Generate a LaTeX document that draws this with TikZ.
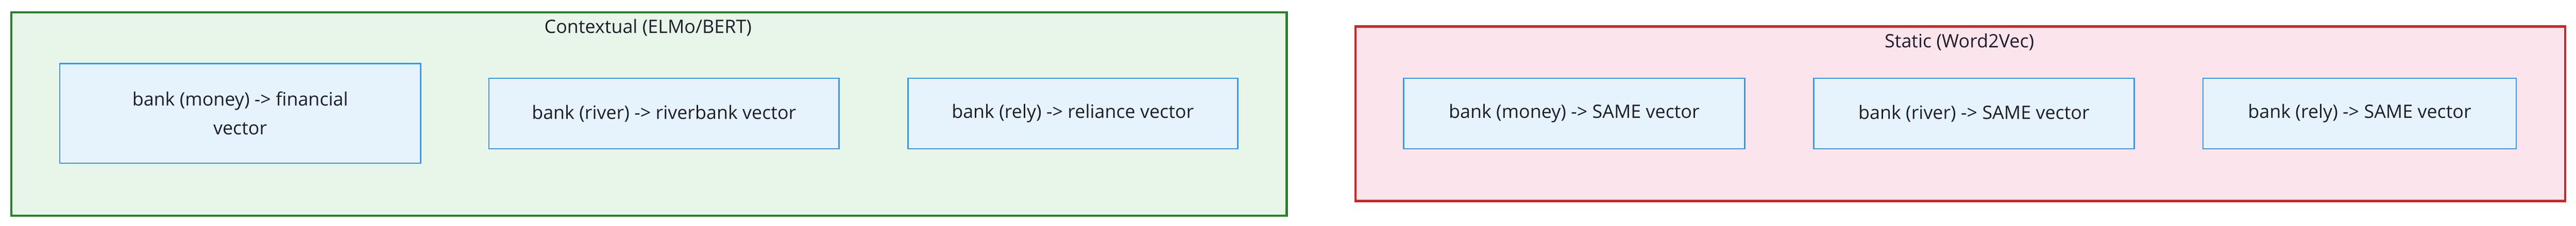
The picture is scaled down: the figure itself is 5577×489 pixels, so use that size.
\documentclass[tikz,border=0pt]{standalone}
\usepackage{fontspec}
\setmainfont{Open Sans}
\definecolor{gstroke}{HTML}{2E7D32}
\definecolor{gfill}{HTML}{E8F5E9}
\definecolor{rstroke}{HTML}{C62828}
\definecolor{rfill}{HTML}{FCE4EC}
\definecolor{bstroke}{HTML}{3C98DE}
\definecolor{bfill}{HTML}{E6F3FC}
\definecolor{txt}{HTML}{1E1E2A}
\tikzset{
  cluster/.style={draw, line width=5pt, inner sep=0pt, anchor=north west},
  wordbox/.style={draw=bstroke, fill=bfill, line width=3pt, inner sep=0pt, anchor=north west, text=txt, align=center, font=\fontsize{40}{62}\selectfont},
  ctitle/.style={text=txt, anchor=base, inner sep=0pt, font=\fontsize{40}{48}\selectfont}
}
\begin{document}
\begin{tikzpicture}[x=1pt,y=-1pt]
\useasboundingbox (0,0) rectangle (5577,489);
\fill[white] (0,0) rectangle (5577,489);
% clusters
\node[cluster, draw=gstroke, fill=gfill, minimum width=2761pt, minimum height=441pt] (ctx) at (22,24) {};
\node[cluster, draw=rstroke, fill=rfill, minimum width=2619pt, minimum height=378pt] (sta) at (2932,55) {};
\node[ctitle] (ctxt) at (1403,72) {Contextual (ELMo/BERT)};
\node[ctitle] (stat) at (4242,103) {Static (Word2Vec)};
% word boxes
\node[wordbox, minimum width=781pt, minimum height=216pt] (c1) at (128,136) {bank (money) -> financial\\vector};
\node[wordbox, minimum width=758pt, minimum height=153pt] (c2) at (1057,168) {bank (river) -> riverbank vector};
\node[wordbox, minimum width=714pt, minimum height=153pt] (c3) at (1964,168) {bank (rely) -> reliance vector};
\node[wordbox, minimum width=739pt, minimum height=153pt] (s1) at (3037,168) {bank (money) -> SAME vector};
\node[wordbox, minimum width=694pt, minimum height=153pt] (s2) at (3925,168) {bank (river) -> SAME vector};
\node[wordbox, minimum width=678pt, minimum height=153pt] (s3) at (4768,168) {bank (rely) -> SAME vector};
\end{tikzpicture}
\end{document}
